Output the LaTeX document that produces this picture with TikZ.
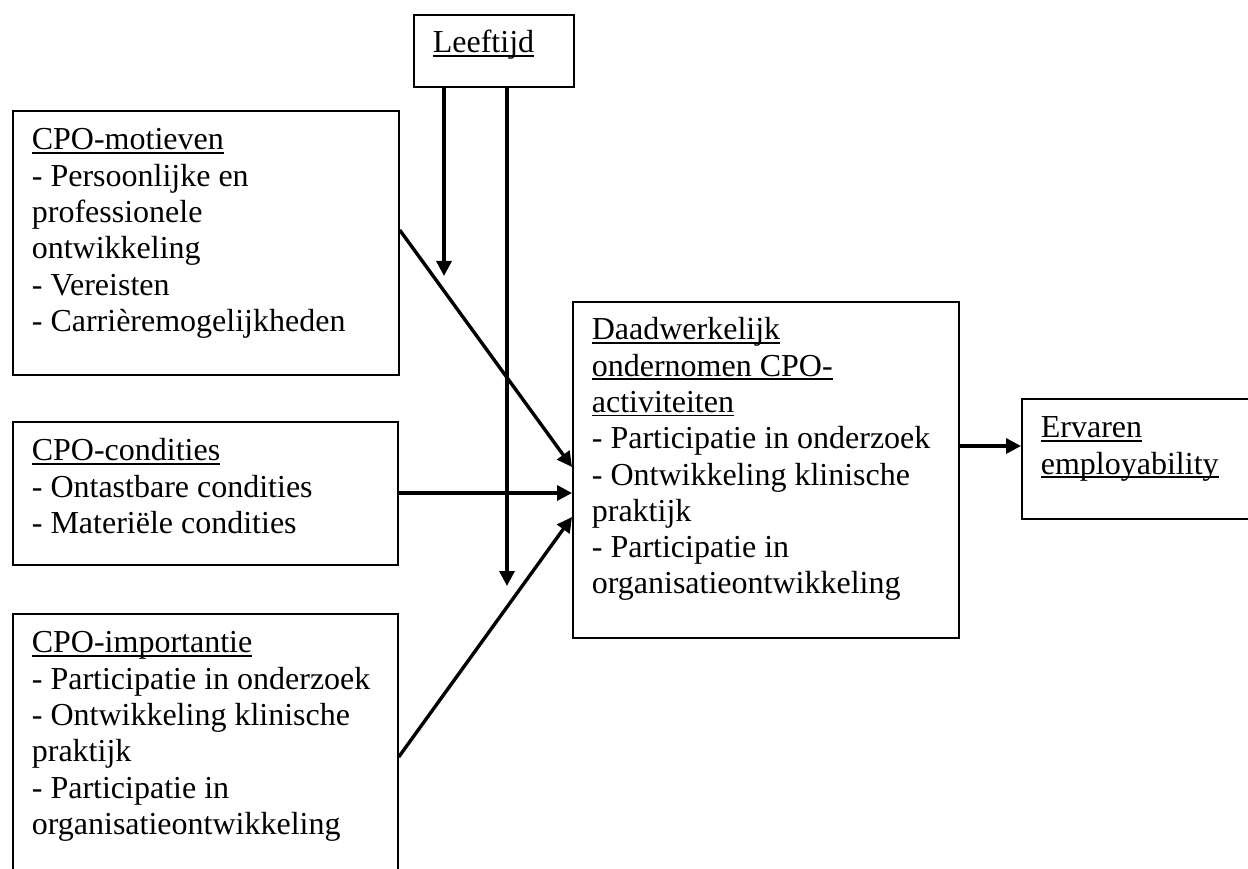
\documentclass[tikz,border=0pt]{standalone}
\usepackage{fontspec}
\setmainfont{Liberation Serif}
\usetikzlibrary{arrows.meta}
\newcommand\ulx[1]{\leavevmode\setbox0\hbox{#1}\rlap{\rule[-4pt]{\wd0}{1.8pt}}\box0}
\newcommand\boxtext[4]{\parbox[b][#1][t]{#2}{\raggedright\leftskip=19pt\fontsize{32}{36.3}\selectfont\rule{0pt}{#3}#4}}
\begin{document}
\begin{tikzpicture}[x=1pt,y=-1pt,
  box/.style={draw,line width=1.7pt,inner sep=0pt,anchor=north west},
  arr/.style={line width=3.4pt,-{Triangle[length=15pt,width=15pt]}}]
\useasboundingbox (0,0) rectangle (1248,869);
\node[box] (lft) at (413,14) {\boxtext{72pt}{160pt}{38pt}{\ulx{Leeftijd}}};
\node[box] (mot) at (12,110) {\boxtext{264pt}{386pt}{39pt}{\ulx{CPO-motieven}\\- Persoonlijke en\\professionele\\ontwikkeling\\- Vereisten\\- Carrièremogelijkheden}};
\node[box] (cond) at (12,421) {\boxtext{143pt}{385pt}{39pt}{\ulx{CPO-condities}\\- Ontastbare condities\\- Materiële condities}};
\node[box] (imp) at (12,613) {\boxtext{290pt}{385pt}{39pt}{\ulx{CPO-importantie}\\- Participatie in onderzoek\\- Ontwikkeling klinische\\praktijk\\- Participatie in\\organisatieontwikkeling}};
\node[box] (daad) at (572,301) {\boxtext{336pt}{386pt}{38pt}{\ulx{Daadwerkelijk}\\\ulx{ondernomen CPO-}\\\ulx{activiteiten}\\- Participatie in onderzoek\\- Ontwikkeling klinische\\praktijk\\- Participatie in\\organisatieontwikkeling}};
\node[box] (erv) at (1021,398) {\boxtext{120pt}{250pt}{39pt}{\ulx{Ervaren}\\\ulx{employability}}};
\coordinate (t1) at (444,276);
\coordinate (t2) at (507,586);
\draw[arr] (lft.south -| t1) -- (t1);
\draw[arr] (lft.south -| t2) -- (t2);
\draw[arr] ([yshift=-120pt]mot.north east) -- ([yshift=-166pt]daad.north west);
\draw[arr] ([yshift=-72pt]cond.north east) -- ([yshift=-192pt]daad.north west);
\draw[arr] ([yshift=-144pt]imp.north east) -- ([yshift=-216pt]daad.north west);
\draw[arr] ([yshift=-145pt]daad.north east) -- ([yshift=-48pt]erv.north west);
\end{tikzpicture}
\end{document}
